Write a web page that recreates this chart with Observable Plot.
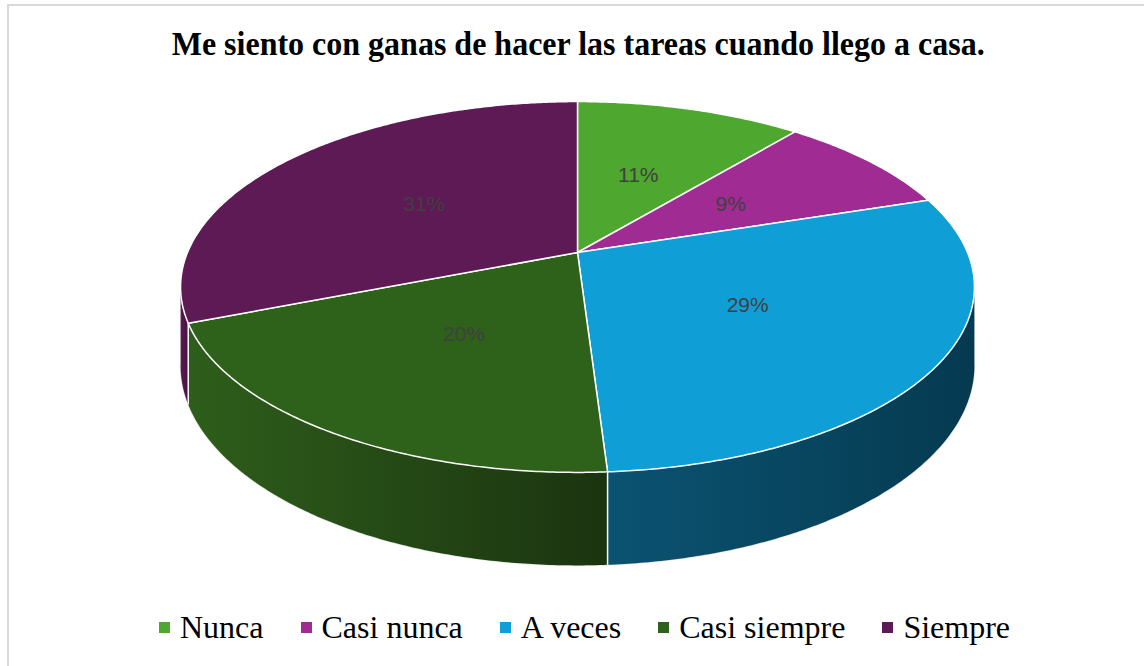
<!DOCTYPE html>
<html>
<head>
<meta charset="utf-8">
<script src="https://cdn.jsdelivr.net/npm/d3@7"></script>
<script src="https://cdn.jsdelivr.net/npm/@observablehq/plot@0.6"></script>
<style>
  html, body { margin: 0; padding: 0; background: #fff; }
  #page { position: relative; width: 1144px; height: 666px; overflow: hidden; background: #fff; }
  #frame { position: absolute; left: 7px; top: 4px; width: 1150px; height: 680px; border: 2px solid #d9d9d9; box-sizing: border-box; }
  #title { position: absolute; left: 0; top: 28px; width: 1157px; text-align: center; line-height: 1; }
  #title span { display: inline-block; font-family: "Liberation Serif", "Times New Roman", serif; font-weight: bold; font-size: 33px; color: #000; white-space: nowrap; transform-origin: 50% 50%; }
  #chart { position: absolute; left: 0; top: 80px; }
  #legend { position: absolute; left: 159px; top: 611px; display: flex; align-items: center; font-family: "Liberation Serif", "Times New Roman", serif; font-size: 32px; line-height: 1; color: #000; white-space: nowrap; }
  .item { display: flex; align-items: center; margin-right: 37px; }
  .sw { width: 11px; height: 11px; margin-right: 10px; }
</style>
</head>
<body>
<div id="page">
  <div id="frame"></div>
  <div id="title"><span>Me siento con ganas de hacer las tareas cuando llego a casa.</span></div>
  <div id="chart"></div>
  <div id="legend"></div>
</div>
<script>
// ---- data ----
const categories = ["Nunca", "Casi nunca", "A veces", "Casi siempre", "Siempre"];
const percents = [11, 9, 29, 20, 31];
const labels = ["11%", "9%", "29%", "20%", "31%"];

// ---- styles ----
const topColors = ["#4EA72E", "#A02B93", "#0F9ED5", "#2E6119", "#5E1A55"];
const wallLight = ["#3a7d22", "#7a206f", "#0b5372", "#2e5e1b", "#5a1a52"];
const wallDark  = ["#2a5c18", "#5a1852", "#053a50", "#1b3410", "#47133f"];

// ---- geometry (layout of the 3D pie, in svg pixels) ----
const W = 1144, H = 510;
const CX = 577, CY = 172, A = 390, B = 179, K = 0.186, D = 75.7;
function proj(theta, r = 1, drop = 0) {
  const u = Math.sin(theta) * r, v = Math.cos(theta) * r;
  const s = 1 / (1 + K * v);
  return [CX + A * u * s, CY - B * v * s + drop * s];
}
// silhouette angles of the wall (cos θ = -K)
const thR = Math.acos(-K), thL = 2 * Math.PI - Math.acos(-K);

const total = d3.sum(percents);
let cum = 0;
const slices = categories.map((c, i) => {
  const a0 = cum / total * 2 * Math.PI;
  cum += percents[i];
  const a1 = cum / total * 2 * Math.PI;
  return {i, c, a0, a1};
});

// top faces
const step = Math.PI / 360;
const topPts = [];
for (const s of slices) {
  const [x0, y0] = proj(0, 0);
  topPts.push({slice: s.c, x: x0, y: y0, fill: topColors[s.i]});
  const n = Math.max(8, Math.ceil((s.a1 - s.a0) / step));
  for (let j = 0; j <= n; j++) {
    const t = s.a0 + (s.a1 - s.a0) * j / n;
    const [x, y] = proj(t);
    topPts.push({slice: s.c, x, y, fill: topColors[s.i]});
  }
}

// visible outer walls, one polygon per slice
const walls = [];
for (const s of slices) {
  const t0 = Math.max(s.a0, thR), t1 = Math.min(s.a1, thL);
  if (t1 <= t0) continue;
  const n = Math.max(4, Math.ceil((t1 - t0) / step));
  const pts = [];
  for (let j = 0; j <= n; j++) { const t = t0 + (t1 - t0) * j / n; const [x, y] = proj(t); pts.push({x, y}); }
  for (let j = n; j >= 0; j--) { const t = t0 + (t1 - t0) * j / n; const [x, y] = proj(t, 1, D); pts.push({x, y}); }
  walls.push({i: s.i, pts});
}

// bottom rim (visible part)
const rimPts = [];
for (let t = thR; t <= thL; t += step) {
  const [x, y] = proj(t, 1, D);
  rimPts.push({x, y});
}

// front boundaries between slices on the wall
const bounds = slices.map(s => s.a1).filter(a => a > thR && a < thL).map(a => {
  const [x1, y1] = proj(a); const [x2, y2] = proj(a, 1, D);
  return {x1, y1, x2, y2};
});

// percent labels
const labelData = slices.map(s => {
  const m = (s.a0 + s.a1) / 2;
  const [x, y] = proj(m, 0.5);
  return {x, y, text: labels[s.i]};
});

// gradient definitions (light at the left end of each wall, dark at the right end)
function gradientDefs() {
  const ns = "http://www.w3.org/2000/svg";
  const defs = document.createElementNS(ns, "defs");
  walls.forEach(w => {
    const g = document.createElementNS(ns, "linearGradient");
    g.setAttribute("id", "wall" + w.i);
    g.setAttribute("x1", "0"); g.setAttribute("x2", "1");
    g.setAttribute("y1", "0"); g.setAttribute("y2", "0");
    [[0, wallLight[w.i]], [1, wallDark[w.i]]].forEach(([o, c]) => {
      const st = document.createElementNS(ns, "stop");
      st.setAttribute("offset", o); st.setAttribute("stop-color", c);
      g.appendChild(st);
    });
    defs.appendChild(g);
  });
  return defs;
}

const plot = Plot.plot({
  width: W, height: H,
  margin: 0,
  x: {domain: [0, W], range: [0, W], axis: null},
  y: {domain: [0, H], range: [0, H], axis: null},
  style: {background: "transparent", overflow: "visible"},
  marks: [
    gradientDefs,
    Plot.line(rimPts, {x: "x", y: "y", stroke: "#e4e4e4", strokeWidth: 1.5}),
    ...walls.map(w => Plot.line(w.pts, {x: "x", y: "y", fill: `url(#wall${w.i})`, stroke: "none", curve: "linear-closed"})),
    Plot.link(bounds, {x1: "x1", y1: "y1", x2: "x2", y2: "y2", stroke: "white", strokeWidth: 1.5}),
    Plot.line(topPts, {x: "x", y: "y", z: "slice", fill: d => d.fill, stroke: "white", strokeWidth: 1.5, strokeLinejoin: "round", curve: "linear-closed"}),
    Plot.text(labelData, {x: "x", y: "y", text: "text", fill: "#404040", fontSize: 21, fontFamily: "'Liberation Sans', Arial, sans-serif"})
  ],
  color: {type: "identity"}
});
document.getElementById("chart").appendChild(plot);

// legend
const legend = document.getElementById("legend");
categories.forEach((c, i) => {
  const item = document.createElement("div");
  item.className = "item";
  const sw = document.createElement("div");
  sw.className = "sw";
  sw.style.background = topColors[i];
  const tx = document.createElement("span");
  tx.textContent = c;
  item.appendChild(sw); item.appendChild(tx);
  legend.appendChild(item);
});

// fit title width to reference
const ts = document.querySelector("#title span");
const w = ts.getBoundingClientRect().width;
ts.style.transform = `scaleX(${813 / w})`;
</script>
</body>
</html>
